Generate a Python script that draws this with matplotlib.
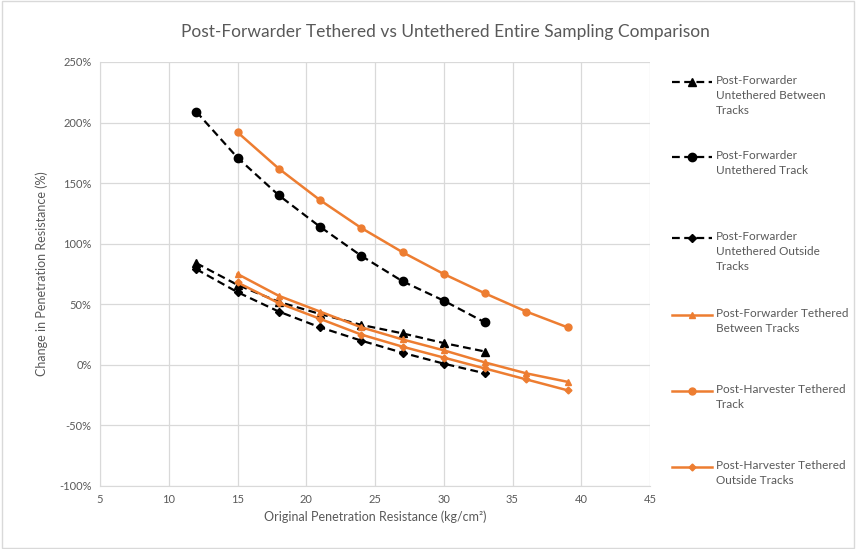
import matplotlib.pyplot as plt
from matplotlib.lines import Line2D
from matplotlib.patches import Rectangle
from matplotlib.ticker import FuncFormatter

plt.rcParams['font.family'] = ['Lato', 'DejaVu Sans']

# original penetration resistance (kg/cm2)
x_untethered = [12, 15, 18, 21, 24, 27, 30, 33]
x_tethered = [15, 18, 21, 24, 27, 30, 33, 36, 39]

# change in penetration resistance (%)
fwd_unteth_between = [84, 66, 52, 42, 33, 26, 18, 11]
fwd_unteth_track = [209, 171, 140, 114, 90, 69, 53, 35]
fwd_unteth_outside = [79, 60, 44, 31, 20, 10, 1, -7]
fwd_teth_between = [75, 57, 44, 31, 21, 12, 2, -7, -14]
harv_teth_track = [192, 162, 136, 113, 93, 75, 59, 44, 31]
harv_teth_outside = [68, 51, 38, 25, 15, 6, -3, -12, -21]

labels = [
    "Post-Forwarder\nUntethered Between\nTracks",
    "Post-Forwarder\nUntethered Track",
    "Post-Forwarder\nUntethered Outside\nTracks",
    "Post-Forwarder Tethered\nBetween Tracks",
    "Post-Harvester Tethered\nTrack",
    "Post-Harvester Tethered\nOutside Tracks",
]

black = "black"
orange = "#ED7D31"
grey = "#595959"

fig = plt.figure(figsize=(8.56, 5.49), dpi=100)
ax = fig.add_axes([100 / 856, 1 - 486 / 549, 550 / 856, 424 / 549])

dash = dict(linestyle=(0, (3.5, 2)), linewidth=1.6, color=black)
solid = dict(linestyle="-", linewidth=1.8, color=orange)
styles = [
    (x_untethered, fwd_unteth_between, dict(marker="^", markersize=6, **dash)),
    (x_untethered, fwd_unteth_track, dict(marker="o", markersize=6, **dash)),
    (x_untethered, fwd_unteth_outside, dict(marker="D", markersize=4.5, **dash)),
    (x_tethered, fwd_teth_between, dict(marker="^", markersize=4.5, **solid)),
    (x_tethered, harv_teth_track, dict(marker="o", markersize=5, **solid)),
    (x_tethered, harv_teth_outside, dict(marker="D", markersize=3.5, **solid)),
]
for xs, ys, kw in styles:
    ax.plot(xs, ys, **kw)

ax.set_xlim(5, 45)
ax.set_ylim(-100, 250)
ax.set_xticks(range(5, 46, 5))
ax.set_yticks(range(-100, 251, 50))
ax.yaxis.set_major_formatter(FuncFormatter(lambda v, p: f"{v:.0f}%"))
ax.grid(True, color="#D9D9D9", linewidth=0.9)
ax.set_axisbelow(True)
for s in ax.spines.values():
    s.set_visible(False)
for side in ("left", "bottom"):
    ax.spines[side].set_visible(True)
    ax.spines[side].set_color("#D9D9D9")
ax.tick_params(length=0, labelsize=8, labelcolor=grey, pad=6)
ax.set_xlabel("Original Penetration Resistance (kg/cm²)", fontsize=9, color=grey, labelpad=4)
ax.set_ylabel("Change in Penetration Resistance (%)", fontsize=9, color=grey, labelpad=8)

fig.text(445 / 856, 1 - 32 / 549, "Post-Forwarder Tethered vs Untethered Entire Sampling Comparison",
         ha="center", va="center", fontsize=12.5, color=grey)

# legend laid out like the spreadsheet one: marker level with the first line
legend_y = [82, 157, 238, 315, 391, 467]
for (xs, ys, kw), lab, yy in zip(styles, labels, legend_y):
    yf = 1 - yy / 549
    fig.add_artist(Line2D([672 / 856, 712 / 856], [yf, yf], transform=fig.transFigure,
                          linestyle=kw["linestyle"], linewidth=kw["linewidth"],
                          color=kw["color"]))
    fig.add_artist(Line2D([692 / 856], [yf], transform=fig.transFigure, linestyle="none",
                          marker=kw["marker"], markersize=kw["markersize"], color=kw["color"]))
    fig.text(716 / 856, yf + 7 / 549, lab, ha="left", va="top", fontsize=8.5, color=grey,
             linespacing=1.45)

fig.add_artist(Rectangle((0.002, 0.002), 0.996, 0.996, transform=fig.transFigure,
                         fill=False, edgecolor="#D9D9D9", linewidth=1))

fig.savefig("out.png", dpi=100)
